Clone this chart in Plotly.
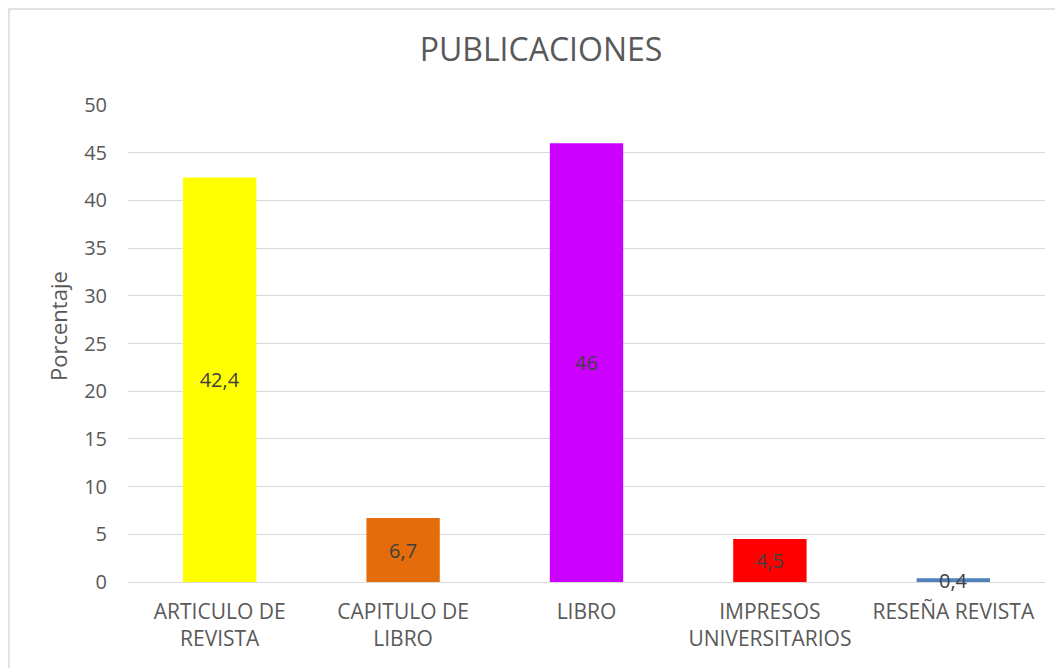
import plotly.graph_objects as go

# Datos
categorias = ["ARTICULO DE<br>REVISTA", "CAPITULO DE<br>LIBRO", "LIBRO",
              "IMPRESOS<br>UNIVERSITARIOS", "RESEÑA REVISTA"]
porcentajes = [42.4, 6.7, 46, 4.5, 0.4]
colores = ["#FFFF00", "#E46C0A", "#CC00FF", "#FF0000", "#4F81BD"]
etiquetas = [str(v).replace(".", ",") for v in porcentajes]
y_ticks = [0, 5, 10, 15, 20, 25, 30, 35, 40, 45, 50]

# la pagina tiene 8px de margen, se compensa aqui
OFF = 8
W, H = 1063, 668
L, T = 128 - OFF, 105 - OFF
R = W - (1045 - OFF)
B = H - (582 - OFF)
pw = W - L - R
ph = H - T - B

fig = go.Figure()
fig.add_trace(go.Bar(
    x=categorias, y=porcentajes,
    marker=dict(color=colores, line=dict(width=0)),
    text=etiquetas, textposition="inside", insidetextanchor="middle",
    textangle=0, constraintext="none", cliponaxis=False,
    textfont=dict(family="Open Sans", size=20, color="#404040"),
    width=0.4,
))

fig.update_layout(
    width=W, height=H,
    margin=dict(l=L, r=R, t=T, b=B),
    paper_bgcolor="white", plot_bgcolor="white",
    showlegend=False,
    font=dict(family="Open Sans", color="#595959"),
    title=dict(text="PUBLICACIONES", x=(541 - OFF) / W, xanchor="center",
               y=1 - (50 - OFF) / H, yanchor="middle", yref="container",
               font=dict(family="Open Sans", size=32, color="#595959")),
)
fig.update_xaxes(showgrid=False, showline=False, ticks="",
                 tickfont=dict(size=21, color="#595959"),
                 ticklabelstandoff=15)
fig.update_yaxes(range=[0, 50], tickvals=y_ticks, showgrid=True,
                 gridcolor="#D9D9D9", gridwidth=1.3,
                 zeroline=True, zerolinecolor="#D9D9D9", zerolinewidth=1.3,
                 showline=False, ticks="",
                 tickfont=dict(size=20, color="#595959"),
                 ticklabelstandoff=20)

# eje y titulo
fig.add_annotation(text="Porcentaje", textangle=-90, showarrow=False,
                   xref="paper", yref="paper",
                   x=(58 - OFF - L) / pw, y=(582 - 326) / ph,
                   xanchor="center", yanchor="middle",
                   font=dict(family="Open Sans", size=22, color="#595959"))

# borde del grafico (en el borde de la figura)
fig.add_shape(type="rect", xref="paper", yref="paper",
              x0=(1 - L) / pw, x1=(1061 - OFF - L) / pw,
              y0=-(B + 20) / ph, y1=(ph + T - 1) / ph,
              line=dict(color="#D9D9D9", width=1.5), layer="below")

fig.write_html("out.html")
